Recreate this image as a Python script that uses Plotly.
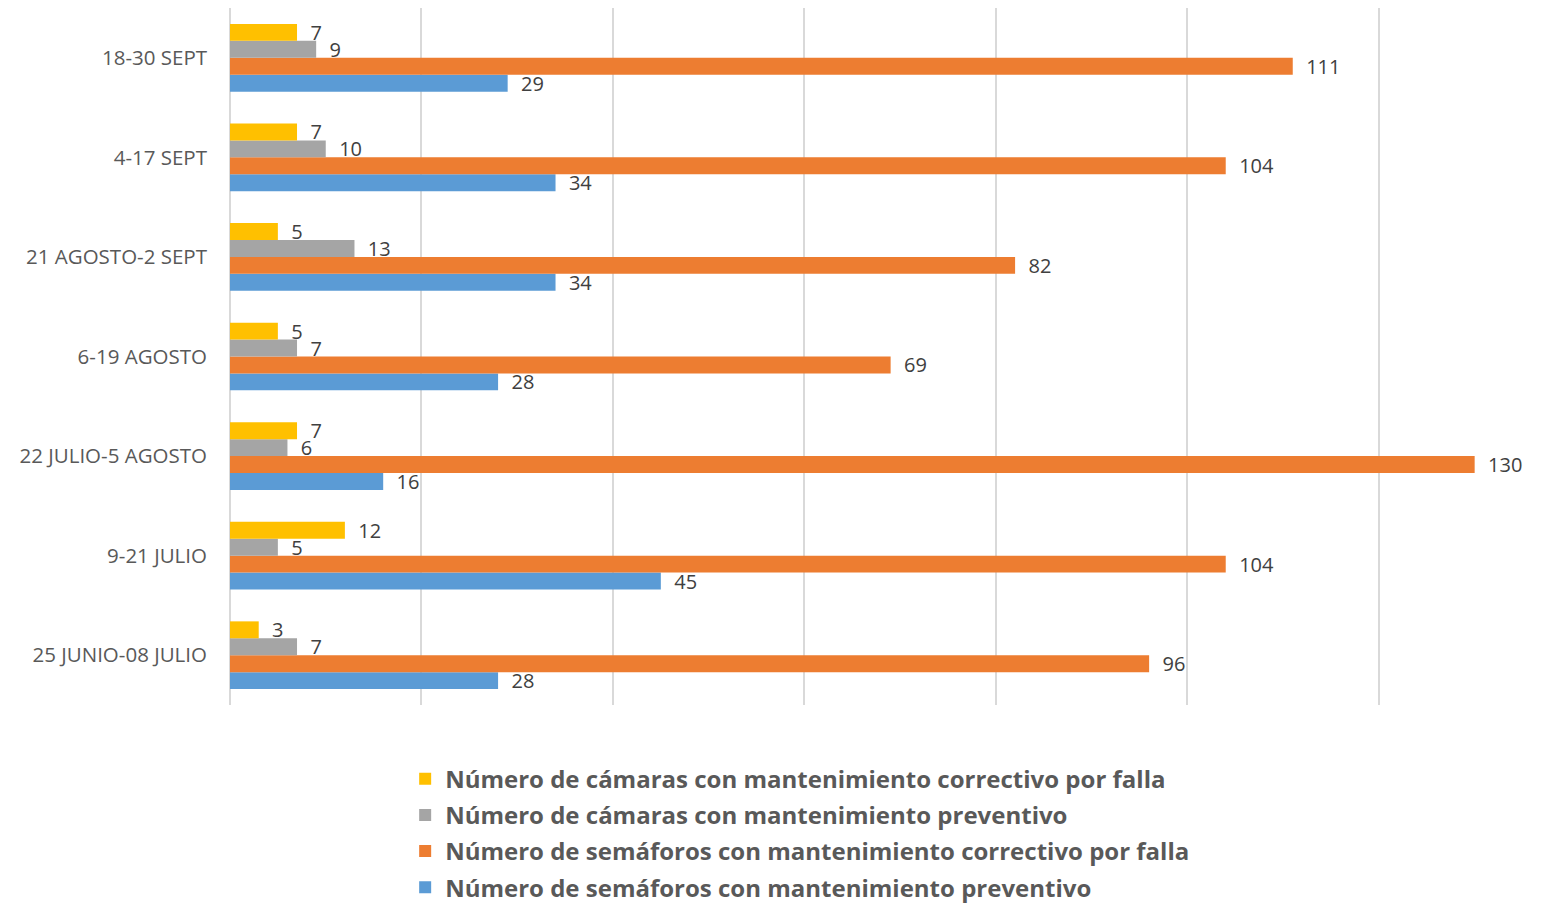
import plotly.graph_objects as go

# Periods, listed bottom to top as drawn on the category axis
periodos = [
    "25 JUNIO-08 JULIO",
    "9-21 JULIO",
    "22 JULIO-5 AGOSTO",
    "6-19 AGOSTO",
    "21 AGOSTO-2 SEPT",
    "4-17 SEPT",
    "18-30 SEPT",
]

camaras_correctivo = [3, 12, 7, 5, 5, 7, 7]
camaras_preventivo = [7, 5, 6, 7, 13, 10, 9]
semaforos_correctivo = [96, 104, 130, 69, 82, 104, 111]
semaforos_preventivo = [28, 45, 16, 28, 34, 34, 29]

series = [
    ("Número de semáforos con mantenimiento preventivo", semaforos_preventivo, "#5B9BD5"),
    ("Número de semáforos con mantenimiento correctivo por falla", semaforos_correctivo, "#ED7D31"),
    ("Número de cámaras con mantenimiento preventivo", camaras_preventivo, "#A5A5A5"),
    ("Número de cámaras con mantenimiento correctivo por falla", camaras_correctivo, "#FFC000"),
]

FONT = "Open Sans"
fig = go.Figure()
for i, (name, vals, color) in enumerate(series):
    fig.add_trace(go.Bar(
        y=periodos,
        x=vals,
        name=name,
        orientation="h",
        marker=dict(color=color, line=dict(width=0)),
        text=vals,
        texttemplate="  %{x}",
        textposition="outside",
        constraintext="none",
        textfont=dict(family=FONT, size=20, color="#404040"),
        cliponaxis=False,
        legendrank=4 - i,
        legendgroup=f"g{i}",
    ))

fig.update_layout(
    width=1557,
    height=906,
    barmode="group",
    bargap=0.32,
    bargroupgap=0,
    plot_bgcolor="white",
    paper_bgcolor="white",
    margin=dict(l=230, r=0, t=8, b=201, autoexpand=False),
    font=dict(family=FONT, color="#595959"),
    xaxis=dict(
        range=[0, 138.6],
        dtick=20,
        showticklabels=False,
        showgrid=True,
        gridcolor="#D9D9D9",
        gridwidth=1.5,
        zeroline=True,
        zerolinecolor="#D9D9D9",
        zerolinewidth=1.5,
        showline=False,
    ),
    yaxis=dict(
        categoryorder="array",
        categoryarray=periodos,
        tickfont=dict(family=FONT, size=20.5, color="#595959"),
        ticks="",
        ticklabelstandoff=22,
        showgrid=False,
        showline=False,
    ),
    legend=dict(
        orientation="v",
        x=0.132,
        xanchor="left",
        y=-0.074,
        yanchor="top",
        font=dict(family=FONT, size=24, color="#595959", weight="bold"),
        tracegroupgap=2,
        bgcolor="rgba(0,0,0,0)",
    ),
    showlegend=True,
)

fig.write_html("out.html")
